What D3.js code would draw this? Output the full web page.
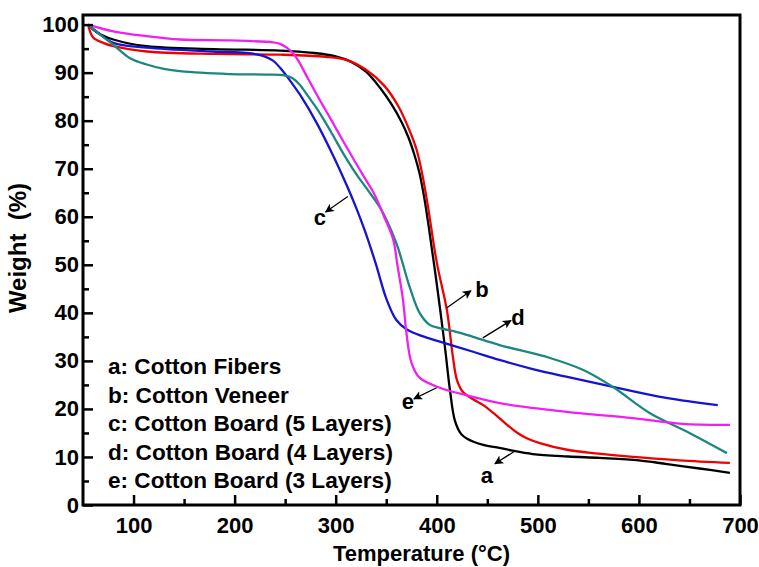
<!DOCTYPE html>
<html>
<head>
<meta charset="utf-8">
<script src="https://cdn.jsdelivr.net/npm/d3@7"></script>
<style>
  body { margin: 0; background: #fff; }
  text { font-family: "Liberation Sans", Arial, sans-serif; font-weight: bold; }
</style>
</head>
<body>
<svg id="svg1" width="759" height="567"></svg>
<script>
// TGA curves, [temperature (°C), weight (%)]
var fibers = [[55,100],[65,98.2],[80,96.9],[113,95.5],[180,94.9],[245,94.6],[278,94.1],[300,93.4],[315,92.3],[330,90.2],[344,86.8],[355,83.5],[365,79.8],[372,76.5],[378,72.8],[383,69],[388,63.5],[392,58],[400,46],[408,33],[413,24],[418,17.5],[424,14.8],[430,13.8],[446,12.5],[462,11.9],[475,11.3],[495,10.6],[530,10.1],[561,9.8],[600,9.3],[628,8.5],[660,7.6],[690,6.7]];
var veneer = [[55,100],[60,97.3],[70,96.2],[80,95.5],[113,94.4],[180,93.9],[245,93.75],[290,93.3],[311,92.6],[330,90.6],[348,87.3],[362,83],[372,78.5],[380,74],[386,68.5],[391,62.5],[400,50.5],[410,40.6],[416,30.8],[420,26],[426,23.5],[436,22],[446,20.8],[458,18.8],[469,16.8],[480,15],[489,13.9],[502,12.9],[529,11.5],[560,10.7],[594,10],[640,9.3],[690,8.75]];
var board5 = [[55,100],[65,98.3],[80,96.2],[113,95.2],[179,94.4],[212,94.1],[228,93.5],[238,92.5],[245,91],[255,88.3],[265,85.3],[281,79.6],[298,72.5],[311,66.5],[320,62],[329,57],[340,50],[350,43],[360,38.5],[370,36.6],[385,35.2],[403,34],[436,31.9],[462,30.2],[495,28.3],[528,26.7],[574,24.6],[627,22.3],[678,20.8]];
var board4 = [[55,100],[67,97.9],[80,95.8],[96.5,93],[113,91.7],[130,90.8],[146,90.3],[195,89.7],[232,89.6],[250,89.4],[257,88.9],[264,87.6],[273,85],[283,82],[295,77.8],[308,73],[320,69],[332,65.5],[345,61.5],[360,54.5],[373,45.5],[383,40],[393,37.5],[403,36.8],[420,36],[436,35],[462,33.3],[512,30.6],[545,28.1],[574,24.6],[611,19.1],[650,15],[687,10.8]];
var board3 = [[55,100],[80,98.6],[113,97.6],[146,96.9],[195,96.7],[238,96.3],[245,96],[251.5,95.2],[258,94],[263,92.5],[272,89],[284,84.4],[296,80],[308,75.5],[319,71.5],[329,68],[337,65.2],[342,63],[348,60],[357,55.2],[361,50],[366.6,42.7],[370,35.8],[375,29.6],[383,26.5],[403,24.4],[436,22.5],[462,21.2],[528,19.4],[594,18.1],[643,16.9],[690,16.7]];

var seriesData = [fibers, veneer, board5, board4, board3];
var seriesColors = ['#000000', '#f00000', '#1414d2', '#1b8780', '#f020f0'];
var legendLabels = ['a: Cotton Fibers', 'b: Cotton Veneer', 'c: Cotton Board (5 Layers)', 'd: Cotton Board (4 Layers)', 'e: Cotton Board (3 Layers)'];

// curve letters: label position, arrow start, arrow end (data units)
var callouts = [
  {t: 'a', at: [449.6, 6.2], from: [476.3, 11.1], to: [457.5, 8.6]},
  {t: 'b', at: [444.7, 44.8], from: [409.7, 41], to: [433.8, 44.6]},
  {t: 'c', at: [284.4, 59.8], from: [312, 64.2], to: [290, 61.0]},
  {t: 'd', at: [480.3, 39], from: [445.6, 34.8], to: [473.4, 38.4]},
  {t: 'e', at: [371.5, 21.5], from: [399.8, 24.4], to: [377.4, 22.1]}
];

var xMajor = [100, 200, 300, 400, 500, 600, 700];
var xMinor = [150, 250, 350, 450, 550, 650];
var yMajor = [0, 10, 20, 30, 40, 50, 60, 70, 80, 90, 100];
var yMinor = [5, 15, 25, 35, 45, 55, 65, 75, 85, 95];

var marginLeft = 83, marginTop = 15;
var plotW = 657, plotH = 490;

var svg = d3.select('#svg1')
    .append('g')
    .attr('transform', 'translate(' + marginLeft + ',' + marginTop + ')');

var scaleX = d3.scaleLinear().domain([50, 700]).range([0, plotW]);
var scaleY = d3.scaleLinear().domain([0, 102]).range([plotH, 0]);

// arrowhead
d3.select('#svg1').append('defs').append('marker')
    .attr('id', 'arr')
    .attr('viewBox', '0 0 10 10')
    .attr('refX', 9).attr('refY', 5)
    .attr('markerWidth', 13).attr('markerHeight', 9)
    .attr('markerUnits', 'userSpaceOnUse')
    .attr('orient', 'auto')
    .append('path').attr('d', 'M0,0 L10,5 L0,10 L2.5,5 Z').attr('fill', '#000');

// curves
var line = d3.line()
    .x(function(d){ return scaleX(d[0]); })
    .y(function(d){ return scaleY(d[1]); })
    .curve(d3.curveCatmullRom.alpha(0.5));

svg.selectAll('.curve')
    .data(seriesData)
    .enter().append('path')
    .attr('class', 'curve')
    .attr('d', line)
    .attr('fill', 'none')
    .attr('stroke', function(d, i){ return seriesColors[i]; })
    .attr('stroke-width', 2.3);

// axes, ticks pointing inward
svg.append('g')
    .attr('transform', 'translate(0,' + plotH + ')')
    .call(d3.axisBottom(scaleX).tickValues(xMajor).tickSize(-10).tickPadding(12));
svg.append('g')
    .attr('transform', 'translate(0,' + plotH + ')')
    .call(d3.axisBottom(scaleX).tickValues(xMinor).tickSize(-6).tickFormat(''));
svg.append('g')
    .call(d3.axisLeft(scaleY).tickValues(yMajor).tickSize(-10).tickPadding(4));
svg.append('g')
    .call(d3.axisLeft(scaleY).tickValues(yMinor).tickSize(-6).tickFormat(''));

svg.selectAll('.domain').remove();
svg.selectAll('.tick line').attr('stroke', '#000').attr('stroke-width', 2.5);
svg.selectAll('.tick text').attr('font-size', 22).attr('fill', '#000')
    .style('font-family', '"Liberation Sans", Arial, sans-serif').style('font-weight', 'bold');

// frame
svg.append('rect')
    .attr('x', 0).attr('y', 0)
    .attr('width', plotW).attr('height', plotH)
    .attr('fill', 'none').attr('stroke', '#000').attr('stroke-width', 3);

// axis titles
svg.append('text')
    .attr('x', plotW / 2 + 10).attr('y', plotH + 56)
    .attr('text-anchor', 'middle')
    .attr('font-size', 22)
    .text('Temperature (°C)');
svg.append('text')
    .attr('transform', 'translate(' + (-57) + ',' + (plotH / 2 - 12) + ') rotate(-90)')
    .attr('text-anchor', 'middle')
    .attr('font-size', 24)
    .attr('xml:space', 'preserve')
    .style('white-space', 'pre')
    .text('Weight  (%)');

// legend
svg.selectAll('.leg')
    .data(legendLabels)
    .enter().append('text')
    .attr('class', 'leg')
    .attr('x', 25)
    .attr('y', function(d, i){ return 359 + i * 28.5; })
    .attr('font-size', 22.6)
    .text(function(d){ return d; });

// curve labels with arrows
svg.selectAll('.arrow')
    .data(callouts)
    .enter().append('line')
    .attr('class', 'arrow')
    .attr('x1', function(d){ return scaleX(d.from[0]); })
    .attr('y1', function(d){ return scaleY(d.from[1]); })
    .attr('x2', function(d){ return scaleX(d.to[0]); })
    .attr('y2', function(d){ return scaleY(d.to[1]); })
    .attr('stroke', '#000').attr('stroke-width', 1.3)
    .attr('marker-end', 'url(#arr)');

svg.selectAll('.callout')
    .data(callouts)
    .enter().append('text')
    .attr('class', 'callout')
    .attr('x', function(d){ return scaleX(d.at[0]); })
    .attr('y', function(d){ return scaleY(d.at[1]); })
    .attr('dy', '0.35em')
    .attr('text-anchor', 'middle')
    .attr('font-size', 22)
    .text(function(d){ return d.t; });
</script>
</body>
</html>
